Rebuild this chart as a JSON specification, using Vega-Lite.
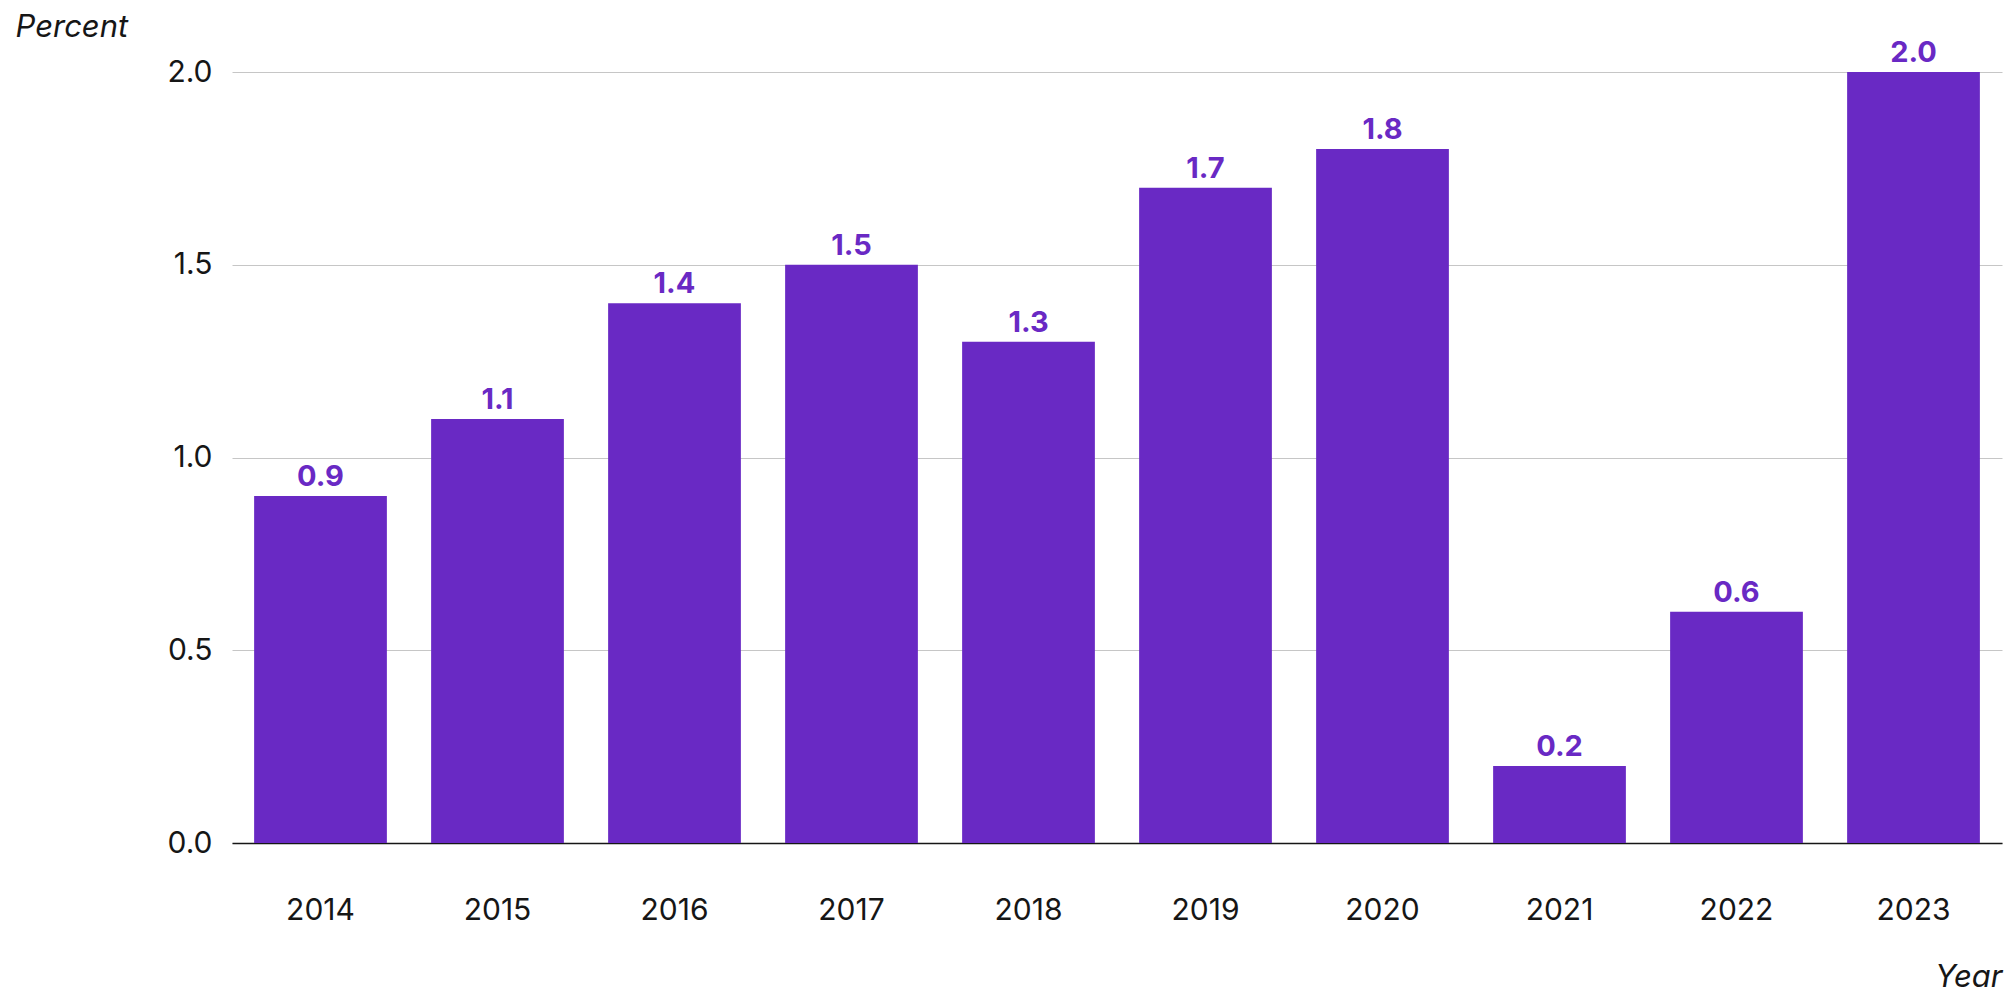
{
  "$schema": "https://vega.github.io/schema/vega-lite/v6.json",
  "width": 1770,
  "height": 771,
  "autosize": {"type": "none"},
  "padding": {"left": 232, "top": 72, "right": 13, "bottom": 164},
  "background": "white",
  "config": {
    "view": {"stroke": null},
    "font": "Inter"
  },
  "data": {
    "values": [
      {"year": "2014", "value": 0.9},
      {"year": "2015", "value": 1.1},
      {"year": "2016", "value": 1.4},
      {"year": "2017", "value": 1.5},
      {"year": "2018", "value": 1.3},
      {"year": "2019", "value": 1.7},
      {"year": "2020", "value": 1.8},
      {"year": "2021", "value": 0.2},
      {"year": "2022", "value": 0.6},
      {"year": "2023", "value": 2.0}
    ]
  },
  "encoding": {
    "x": {
      "field": "year",
      "type": "ordinal",
      "scale": {"paddingInner": 0.25, "paddingOuter": 0.125},
      "axis": {
        "title": "Year",
        "titleFont": "Inter",
        "titleFontStyle": "italic",
        "titleFontWeight": "normal",
        "titleFontSize": 31,
        "titleColor": "#161616",
        "titleAlign": "right",
        "titleAnchor": null,
        "titleX": 1770,
        "titleY": 143,
        "titleBaseline": "alphabetic",
        "labelAngle": 0,
        "labelFontSize": 30,
        "labelColor": "#161616",
        "labelPadding": 52,
        "ticks": false,
        "domainColor": "#161616",
        "domainWidth": 1.5,
        "grid": false
      }
    },
    "y": {
      "field": "value",
      "type": "quantitative",
      "scale": {"domain": [0, 2]},
      "axis": {
        "title": "Percent",
        "titleFont": "Inter",
        "titleFontStyle": "italic",
        "titleFontWeight": "normal",
        "titleFontSize": 31,
        "titleColor": "#161616",
        "titleAngle": 0,
        "titleAlign": "left",
        "titleAnchor": null,
        "titleX": -217,
        "titleY": -36,
        "titleBaseline": "alphabetic",
        "values": [0, 0.5, 1, 1.5, 2],
        "format": ".1f",
        "labelFontSize": 30,
        "labelColor": "#161616",
        "labelPadding": 20,
        "ticks": false,
        "domain": false,
        "grid": true,
        "gridColor": "#c6c6c6",
        "gridWidth": 1
      }
    }
  },
  "layer": [
    {
      "mark": {"type": "bar", "color": "#6929c4"}
    },
    {
      "mark": {
        "type": "text",
        "color": "#6929c4",
        "fontSize": 29,
        "fontWeight": "bold",
        "baseline": "alphabetic",
        "dy": -10
      },
      "encoding": {
        "text": {"field": "value", "type": "quantitative", "format": ".1f"}
      }
    }
  ]
}
